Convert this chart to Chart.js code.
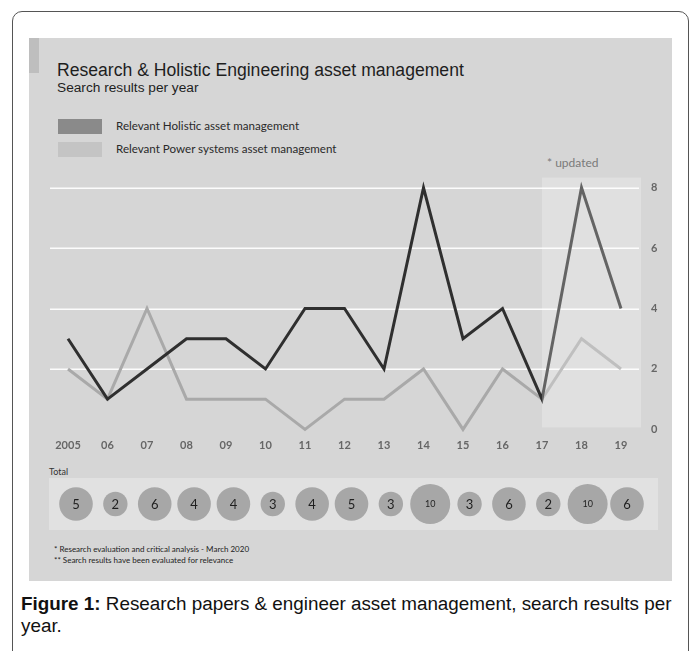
<!DOCTYPE html>
<html>
<head>
<meta charset="utf-8">
<script src="https://cdn.jsdelivr.net/npm/chart.js@4"></script>
<style>
  html, body { margin:0; padding:0; background:#fff; width:694px; height:651px; overflow:hidden; }
  .abs { position:absolute; }
  #frame { left:12px; top:11px; width:675px; height:720px; border:1.5px solid #555; border-radius:10px; }
  #panel { left:29px; top:38px; width:643px; height:543px; background:#d6d6d6; }
  #strip { left:29px; top:38px; width:10px; height:35px; background:#bebebe; }
  #title { left:57px; top:61px; font:17.6px 'Liberation Sans', Arial, sans-serif; line-height:18px; color:#1e1e1e; white-space:nowrap; }
  #subtitle { left:57px; top:81px; font:13.7px 'Liberation Sans', Arial, sans-serif; line-height:14px; color:#1e1e1e; white-space:nowrap; }
  .sw { width:44px; height:15px; }
  .lt { font:11.6px Lato, sans-serif; line-height:14px; color:#2a2a2a; white-space:nowrap; }
  #updated { left:547px; top:156px; font:12px Lato, sans-serif; line-height:14px; color:#7a7a7a; }
  #lineWrap { left:30px; top:151px; width:642px; height:315px; }
  #band { left:49px; top:478px; width:609px; height:52px; background:#e1e1e1; }
  #bubbleWrap { left:49px; top:478px; width:609px; height:52px; }
  #total { left:49px; top:466px; font:9px Lato, sans-serif; line-height:11px; color:#333; }
  .fn { left:54px; font:8px Lato, sans-serif; line-height:10px; color:#222; white-space:nowrap; }
  #caption { left:21px; top:593px; font:18.85px 'Liberation Sans', Arial, sans-serif; line-height:22px; color:#111; white-space:nowrap; }
</style>
</head>
<body>
<div id="frame" class="abs"></div>
<div id="panel" class="abs"></div>
<div id="strip" class="abs"></div>
<div id="title" class="abs">Research &amp; Holistic Engineering asset management</div>
<div id="subtitle" class="abs">Search results per year</div>
<div id="legend"></div>
<div id="updated" class="abs">* updated</div>
<div id="lineWrap" class="abs"><canvas id="lineChart" width="642" height="315"></canvas></div>
<div id="total" class="abs">Total</div>
<div id="band" class="abs"></div>
<div id="bubbleWrap" class="abs"><canvas id="bubbleChart" width="609" height="52"></canvas></div>
<div class="abs fn" style="top:544px">* Research evaluation and critical analysis - March 2020</div>
<div class="abs fn" style="top:555px">** Search results have been evaluated for relevance</div>
<div id="caption" class="abs"><b>Figure 1:</b> Research papers &amp; engineer asset management, search results per<br>year.</div>

<script>
// ---- Data ----
const years = ['2005','06','07','08','09','10','11','12','13','14','15','16','17','18','19'];
const holistic = [3,1,2,3,3,2,4,4,2,8,3,4,1,8,4];
const powerSystems = [2,1,4,1,1,1,0,1,1,2,0,2,1,3,2];
const totals = [5,2,6,4,4,3,4,5,3,10,3,6,2,10,6];
const seriesNames = ['Relevant Holistic asset management', 'Relevant Power systems asset management'];
const yTicks = [0,2,4,6,8];
const updatedFrom = '17';

// ---- Styles ----
const lineColors = ['#2f2f2f', '#a9a9a9'];
const swatchColors = ['#8a8a8a', '#c4c4c4'];

// HTML legend built from series names
const legend = document.getElementById('legend');
const legendTops = [119, 142];
seriesNames.forEach((name, i) => {
  const sw = document.createElement('div');
  sw.className = 'abs sw';
  sw.style.left = '58px';
  sw.style.top = legendTops[i] + 'px';
  sw.style.background = swatchColors[i];
  legend.appendChild(sw);
  const t = document.createElement('div');
  t.className = 'abs lt';
  t.style.left = '116px';
  t.style.top = (legendTops[i]) + 'px';
  t.textContent = name;
  legend.appendChild(t);
});

const decoPlugin = {
  id: 'deco',
  beforeDatasetsDraw(chart) {
    const ctx = chart.ctx, y = chart.scales.y;
    ctx.save();
    ctx.strokeStyle = 'rgba(255,255,255,0.92)';
    ctx.lineWidth = 1.5;
    yTicks.filter(v => v > 0).forEach(v => {
      const py = Math.round(y.getPixelForValue(v)) + 0.25;
      ctx.beginPath();
      ctx.moveTo(20, py);
      ctx.lineTo(609, py);
      ctx.stroke();
    });
    ctx.restore();
  },
  afterDatasetsDraw(chart) {
    const ctx = chart.ctx, x = chart.scales.x, y = chart.scales.y;
    const i0 = years.indexOf(updatedFrom);
    const left = x.getPixelForValue(i0);
    const right = x.getPixelForValue(years.length - 1) + 20;
    const top = y.getPixelForValue(y.max) - 10;
    const bottom = y.getPixelForValue(0) - 2;
    ctx.save();
    ctx.fillStyle = 'rgba(255,255,255,0.26)';
    ctx.fillRect(left, top, right - left, bottom - top);
    ctx.restore();
  }
};

new Chart(document.getElementById('lineChart'), {
  type: 'line',
  data: {
    labels: years,
    datasets: [
      { label: seriesNames[0], data: holistic, borderColor: lineColors[0], borderWidth: 3, pointRadius: 0, tension: 0, clip: false },
      { label: seriesNames[1], data: powerSystems, borderColor: lineColors[1], borderWidth: 3, pointRadius: 0, tension: 0, clip: false }
    ]
  },
  options: {
    responsive: false,
    animation: false,
    events: [],
    layout: { padding: { left: 38, top: 18, right: 0, bottom: 0 } },
    plugins: { legend: { display: false }, tooltip: { enabled: false } },
    scales: {
      x: {
        type: 'category',
        offset: false,
        grid: { display: false, drawTicks: false },
        border: { display: false },
        ticks: { autoSkip: false, maxRotation: 0, padding: 9, color: '#666666', font: { family: 'Lato', size: 11, weight: 'bold' } },
        afterFit(s) { s.height = 32; }
      },
      y: {
        position: 'right',
        min: 0, max: 8,
        afterBuildTicks(s) { s.ticks = yTicks.map(v => ({ value: v })); },
        grid: { display: false, drawTicks: false },
        border: { display: false },
        ticks: { padding: 30, color: '#666666', font: { family: 'Lato', size: 11, weight: 'bold' } },
        afterFit(s) { s.width = 51; }
      }
    }
  },
  plugins: [decoPlugin]
});

// Bubble row
const bubbleRadius = v => (v <= 3 ? 12.2 : v <= 6 ? 16.8 : 20);
const bubbleLabels = {
  id: 'bubbleLabels',
  afterDatasetsDraw(chart) {
    const ctx = chart.ctx;
    const meta = chart.getDatasetMeta(0);
    ctx.save();
    ctx.fillStyle = '#1f1f1f';
    ctx.textAlign = 'center';
    ctx.textBaseline = 'middle';
    meta.data.forEach((el, i) => {
      const v = totals[i];
      ctx.font = (v >= 10 ? '9px' : '13px') + ' Lato, sans-serif';
      ctx.fillText(String(v), el.x, el.y + 0.5);
    });
    ctx.restore();
  }
};

new Chart(document.getElementById('bubbleChart'), {
  type: 'bubble',
  data: {
    datasets: [{
      label: 'Total',
      data: totals.map((v, i) => ({ x: i, y: 0, r: bubbleRadius(v) })),
      backgroundColor: '#a7a7a7',
      borderWidth: 0,
      clip: false
    }]
  },
  options: {
    responsive: false,
    animation: false,
    events: [],
    layout: { padding: { left: 27, right: 31, top: 0, bottom: 0 } },
    plugins: { legend: { display: false }, tooltip: { enabled: false } },
    scales: {
      x: { type: 'linear', min: 0, max: years.length - 1, display: false },
      y: { type: 'linear', min: -1, max: 1, display: false }
    }
  },
  plugins: [bubbleLabels]
});
</script>
</body>
</html>
